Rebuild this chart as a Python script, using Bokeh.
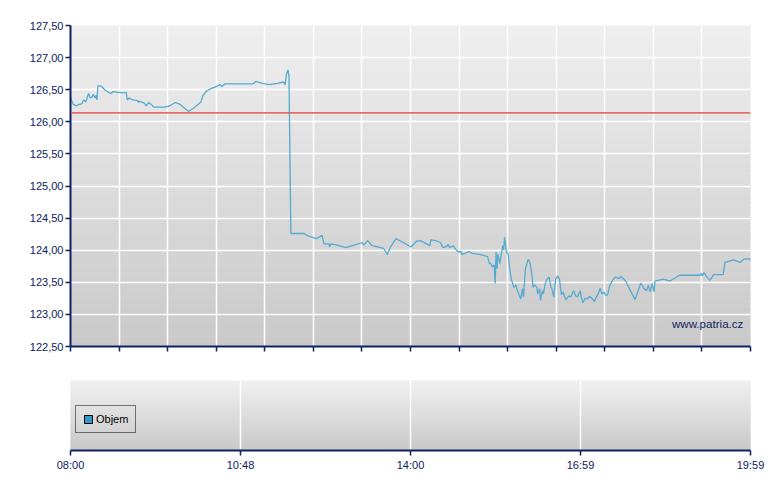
import numpy as np
from bokeh.plotting import figure
from bokeh.layouts import column
from bokeh.models import Range1d, FixedTicker, Span, Label, Legend, LegendItem
from bokeh.embed import file_html
from bokeh.resources import INLINE

# ---------------- data ----------------
times = [
    "08:00", "08:03", "08:06", "08:09", "08:12", "08:14", "08:16", "08:17", "08:18", "08:19",
    "08:21", "08:23", "08:24", "08:26", "08:27", "08:28", "08:29", "08:31", "08:33", "08:36",
    "08:40", "08:43", "08:45", "08:50", "08:56", "08:59", "09:00", "09:02", "09:06", "09:11",
    "09:12", "09:13", "09:18", "09:20", "09:23", "09:26", "09:28", "09:33", "09:40", "09:45",
    "09:51", "09:56",
    "10:00", "10:05", "10:10", "10:18", "10:20", "10:24", "10:29", "10:33", "10:38", "10:40",
    "10:43", "10:49", "11:07", "11:13", "11:16", "11:23", "11:30", "11:39", "11:45", "11:47",
    "11:48", "11:50", "11:51", "11:53",
    "11:56", "12:07", "12:10", "12:16", "12:20", "12:26", "12:28", "12:33", "12:34", "12:35",
    "12:42", "12:51", "13:00", "13:08", "13:10", "13:14", "13:19", "13:31", "13:35", "13:38",
    "13:44",
    "13:52", "14:00", "14:06", "14:10", "14:15", "14:20", "14:21", "14:26", "14:31", "14:34",
    "14:38", "14:39", "14:41", "14:45", "14:46", "14:48", "14:51", "14:53", "14:54", "14:57",
    "15:01", "15:05", "15:14", "15:21", "15:23",
    "15:24", "15:26", "15:28", "15:29", "15:30", "15:31", "15:32", "15:34", "15:35", "15:37",
    "15:38", "15:39", "15:41", "15:43", "15:44", "15:46", "15:49", "15:51", "15:52", "15:54",
    "15:56", "15:58", "15:59", "16:01", "16:04", "16:06", "16:08", "16:09", "16:11", "16:13",
    "16:14", "16:16", "16:17", "16:19", "16:20", "16:22", "16:24", "16:26", "16:28", "16:29",
    "16:31", "16:33", "16:35", "16:37", "16:39", "16:41", "16:42", "16:44", "16:47", "16:49",
    "16:52", "16:54", "16:56", "16:59", "17:00", "17:02", "17:04", "17:06", "17:09", "17:12",
    "17:14", "17:16", "17:18", "17:20", "17:22", "17:24", "17:26", "17:28", "17:30", "17:33",
    "17:36", "17:40",
    "17:42", "17:47", "17:51", "17:57", "17:59", "18:03", "18:06", "18:09", "18:11", "18:13",
    "18:15", "18:17", "18:18", "18:27", "18:34", "18:44", "19:06", "19:07", "19:08", "19:10",
    "19:13", "19:16", "19:20", "19:30", "19:32", "19:41", "19:48", "19:52", "19:58", "19:59",
]

prices = [
    126.37, 126.27, 126.25, 126.27, 126.28, 126.34, 126.31, 126.34, 126.39, 126.44,
    126.37, 126.39, 126.43, 126.37, 126.41, 126.34, 126.56, 126.56, 126.55, 126.50,
    126.46, 126.44, 126.47, 126.46, 126.45, 126.46, 126.34, 126.37, 126.34, 126.33,
    126.30, 126.32, 126.29, 126.25, 126.30, 126.26, 126.23, 126.23, 126.23, 126.25,
    126.30, 126.27,
    126.22, 126.16, 126.21, 126.31, 126.41, 126.48, 126.52, 126.54, 126.58, 126.55,
    126.59, 126.59, 126.59, 126.59, 126.63, 126.60, 126.58, 126.60, 126.62, 126.58,
    126.72, 126.81, 126.71, 124.26,
    124.26, 124.26, 124.23, 124.20, 124.18, 124.23, 124.10, 124.10, 124.05, 124.10,
    124.08, 124.04, 124.08, 124.12, 124.08, 124.15, 124.07, 124.03, 123.93, 124.04,
    124.18,
    124.12, 124.05, 124.14, 124.15, 124.11, 124.07, 124.16, 124.15, 124.12, 124.04,
    124.06, 124.09, 124.04, 124.07, 124.04, 124.00, 123.97, 123.98, 123.93, 123.95,
    123.98, 123.95, 123.93, 123.90, 123.79,
    123.80, 123.74, 123.77, 123.48, 123.97, 123.71, 123.94, 123.79, 123.89, 124.07,
    124.00, 124.20, 123.97, 123.93, 123.76, 123.55, 123.42, 123.46, 123.39, 123.32,
    123.24, 123.40, 123.27, 123.71, 123.86, 123.80, 123.61, 123.42, 123.46, 123.42,
    123.32, 123.40, 123.22, 123.37, 123.32, 123.48, 123.55, 123.58, 123.42, 123.40,
    123.27, 123.55, 123.60, 123.55, 123.31, 123.35, 123.29, 123.23, 123.29, 123.27,
    123.37, 123.29, 123.27, 123.37, 123.27, 123.18, 123.25, 123.24, 123.28, 123.24,
    123.20, 123.27, 123.32, 123.41, 123.32, 123.35, 123.29, 123.31, 123.44, 123.53,
    123.58, 123.56,
    123.59, 123.52, 123.40, 123.23, 123.32, 123.49, 123.41, 123.37, 123.45, 123.35,
    123.48, 123.35, 123.52, 123.55, 123.52, 123.61, 123.61, 123.64, 123.60, 123.65,
    123.58, 123.53, 123.62, 123.62, 123.81, 123.85, 123.81, 123.86, 123.87, 123.84,
]

prev_close = 126.14

# volume panel (no volume bars are shown in the chart)
volume_times = []
volume = []

y_ticks = [122.5, 123.0, 123.5, 124.0, 124.5, 125.0, 125.5, 126.0, 126.5, 127.0, 127.5]
y_labels = ["122,50", "123,00", "123,50", "124,00", "124,50", "125,00",
            "125,50", "126,00", "126,50", "127,00", "127,50"]
session_open = "08:00"
session_close = "19:59"
x_labels = ["08:00", "10:48", "14:00", "16:59", "19:59"]
watermark = "www.patria.cz"
legend_label = "Objem"

assert len(times) == len(prices)

# ---------------- helpers ----------------
def to_min(s):
    h, m = map(int, s.split(":"))
    o_h, o_m = map(int, session_open.split(":"))
    return (h - o_h) * 60 + (m - o_m)

x = [to_min(t) for t in times]
x_end = to_min(session_close)

NAVY = "#0e2260"
FONT = "Liberation Sans"
LINE = "#55aad2"
VOL_COLOR = "#3399cc"


def gradient(p, y0, y1, top_rgb, bot_rgb, n=60):
    edges = np.linspace(y0, y1, n + 1)
    cols = []
    for i in range(n):
        f = (i + 0.5) / n
        c = [int(round(b + (t - b) * f)) for t, b in zip(top_rgb, bot_rgb)]
        cols.append("#%02x%02x%02x" % tuple(c))
    p.quad(left=-50, right=x_end + 50, bottom=edges[:-1], top=edges[1:],
           fill_color=cols, line_color=cols, line_width=1, level="image")


def style_axis(ax):
    ax.axis_line_color = NAVY
    ax.axis_line_width = 2
    ax.major_tick_line_color = NAVY
    ax.major_tick_line_width = 1.5
    ax.major_tick_out = 5
    ax.major_tick_in = 0
    ax.minor_tick_line_color = None
    ax.major_label_text_color = NAVY
    ax.major_label_text_font = FONT
    ax.major_label_text_font_size = "11px"


# ---------------- price chart ----------------
p1 = figure(width=772, height=358, x_range=Range1d(0, x_end),
            y_range=Range1d(y_ticks[0], y_ticks[-1]),
            output_backend="svg", toolbar_location=None,
            min_border_left=70, min_border_right=22, min_border_top=25,
            min_border_bottom=12)
p1.outline_line_color = None
p1.border_fill_color = "white"
gradient(p1, y_ticks[0], y_ticks[-1], (239, 239, 239), (201, 201, 201))

p1.yaxis.ticker = FixedTicker(ticks=y_ticks)
p1.yaxis.major_label_overrides = {t: l for t, l in zip(y_ticks, y_labels)}
style_axis(p1.yaxis[0])
p1.yaxis.major_label_standoff = 2

top_ticks = list(np.linspace(0, x_end, 15))
p1.xaxis.ticker = FixedTicker(ticks=top_ticks)
style_axis(p1.xaxis[0])
p1.xaxis.major_label_overrides = {t: "" for t in top_ticks}
p1.xaxis.major_label_standoff = 0

p1.xgrid.ticker = FixedTicker(ticks=top_ticks)
p1.ygrid.ticker = FixedTicker(ticks=y_ticks)
for g in (p1.xgrid[0], p1.ygrid[0]):
    g.grid_line_color = "white"
    g.grid_line_width = 1.5

p1.add_layout(Span(location=prev_close, dimension="width",
                   line_color="#e5403a", line_width=1.2))
p1.line(x, prices, line_color=LINE, line_width=1.3)

p1.add_layout(Label(x=711.5, y=122.86, text=watermark, text_align="right",
                    text_baseline="middle", text_font=FONT,
                    text_font_size="11.6px", text_color=NAVY))

# ---------------- volume panel ----------------
p2 = figure(width=772, height=122, x_range=p1.x_range, y_range=Range1d(0, 1),
            output_backend="svg", toolbar_location=None,
            min_border_left=70, min_border_right=22, min_border_top=22,
            min_border_bottom=30)
p2.outline_line_color = None
p2.border_fill_color = "white"
gradient(p2, 0, 1, (240, 240, 240), (200, 200, 200), n=30)
p2.yaxis.visible = False
p2.ygrid.visible = False

bottom_ticks = list(np.linspace(0, x_end, 5))
p2.xaxis.ticker = FixedTicker(ticks=bottom_ticks)
p2.xaxis.major_label_overrides = {t: l for t, l in zip(bottom_ticks, x_labels)}
style_axis(p2.xaxis[0])
p2.xaxis.major_label_standoff = 3
p2.xgrid.ticker = FixedTicker(ticks=bottom_ticks)
p2.xgrid.grid_line_color = "white"
p2.xgrid.grid_line_width = 1.5

# the (empty) volume series
p2.vbar(x=volume_times, top=volume, width=1,
        fill_color=VOL_COLOR, line_color="black", line_width=1)
# legend swatch proxy (NaN, draws nothing in the plot area)
swatch = p2.vbar(x=[np.nan], top=[np.nan], width=1,
                 fill_color=VOL_COLOR, line_color="black", line_width=1)
legend = Legend(items=[LegendItem(label=legend_label, renderers=[swatch])],
                location=(5, 17), border_line_color="black", border_line_width=1,
                background_fill_alpha=0, label_text_font=FONT,
                label_text_font_size="11px", label_text_color="black",
                glyph_width=10, glyph_height=10, label_height=12,
                label_standoff=3, padding=7, margin=0)
p2.add_layout(legend, "center")

layout = column(p1, p2, spacing=0)
open("out.html", "w").write(file_html(layout, INLINE))
